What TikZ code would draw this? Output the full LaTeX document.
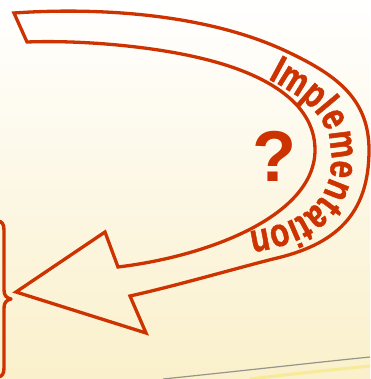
\documentclass[tikz,border=0pt]{standalone}
\usepackage{fontspec}
\setmainfont{Liberation Sans}
\newfontfamily\implfont[FakeStretch=0.78,FakeBold=1.2]{Liberation Sans}
\usetikzlibrary{decorations.text}
\definecolor{accent}{RGB}{204,51,0}
\definecolor{creamb}{RGB}{250,240,203}
\definecolor{creamm}{RGB}{253,250,240}
\definecolor{rimgray}{RGB}{150,148,140}
\definecolor{glowyel}{RGB}{246,232,130}
\begin{document}
\begin{tikzpicture}[x=1pt,y=-1pt,
  outline/.style={draw=accent, line width=3.3pt, line join=miter, miter limit=10},
  bracestyle/.style={draw=accent, line width=3.4pt, line join=round}]
\useasboundingbox (0,0) rectangle (370,379);
\shade[top color=white, middle color=creamm, bottom color=creamb] (0,0) rectangle (370,379);
% bottom rim
\draw[glowyel, line width=3pt, opacity=0.7] (250,379) .. controls (300,373) and (340,369) .. (370,366);
\draw[rimgray, line width=1.2pt] (163,379) .. controls (250,370) and (320,362) .. (370,357);
% curved arrow
\draw[outline] (14,13) .. controls (100,7) and (210,14) .. (290,53)
  .. controls (338,76) and (369,100) .. (369,150)
  .. controls (369,215) and (335,245) .. (273,259)
  .. controls (230,270) and (175,286) .. (130,296)
  -- (146,333) -- (16,292) -- (105,232) -- (118,267)
  .. controls (210,256) and (315,215) .. (315,150)
  .. controls (315,100) and (260,72) .. (200,58)
  .. controls (150,46) and (80,40) .. (27,42)
  -- cycle;
% text along the arrow
\path[decorate, decoration={text along path, text align=left, text color=accent,
  text={|\implfont\bfseries\fontsize{40pt}{40pt}\selectfont|Implementation}}]
  (268,79) .. controls (306,99) and (331,118) .. (331,155)
  .. controls (333,200) and (305,224) .. (245,232) -- (200,236);
% question mark
\node[anchor=base, text=accent, font=\bfseries\fontsize{72pt}{72pt}\selectfont, inner sep=0pt] (q) at (274,182) {?};
% brace
\draw[bracestyle] (-3,221) .. controls (2,221) and (4,224) .. (4,230) -- (4,290)
  .. controls (4,296) and (7,298) .. (11,299)
  .. controls (7,300) and (4,302) .. (4,308) -- (4,368)
  .. controls (4,374) and (2,377) .. (-3,377);
\end{tikzpicture}
\end{document}
